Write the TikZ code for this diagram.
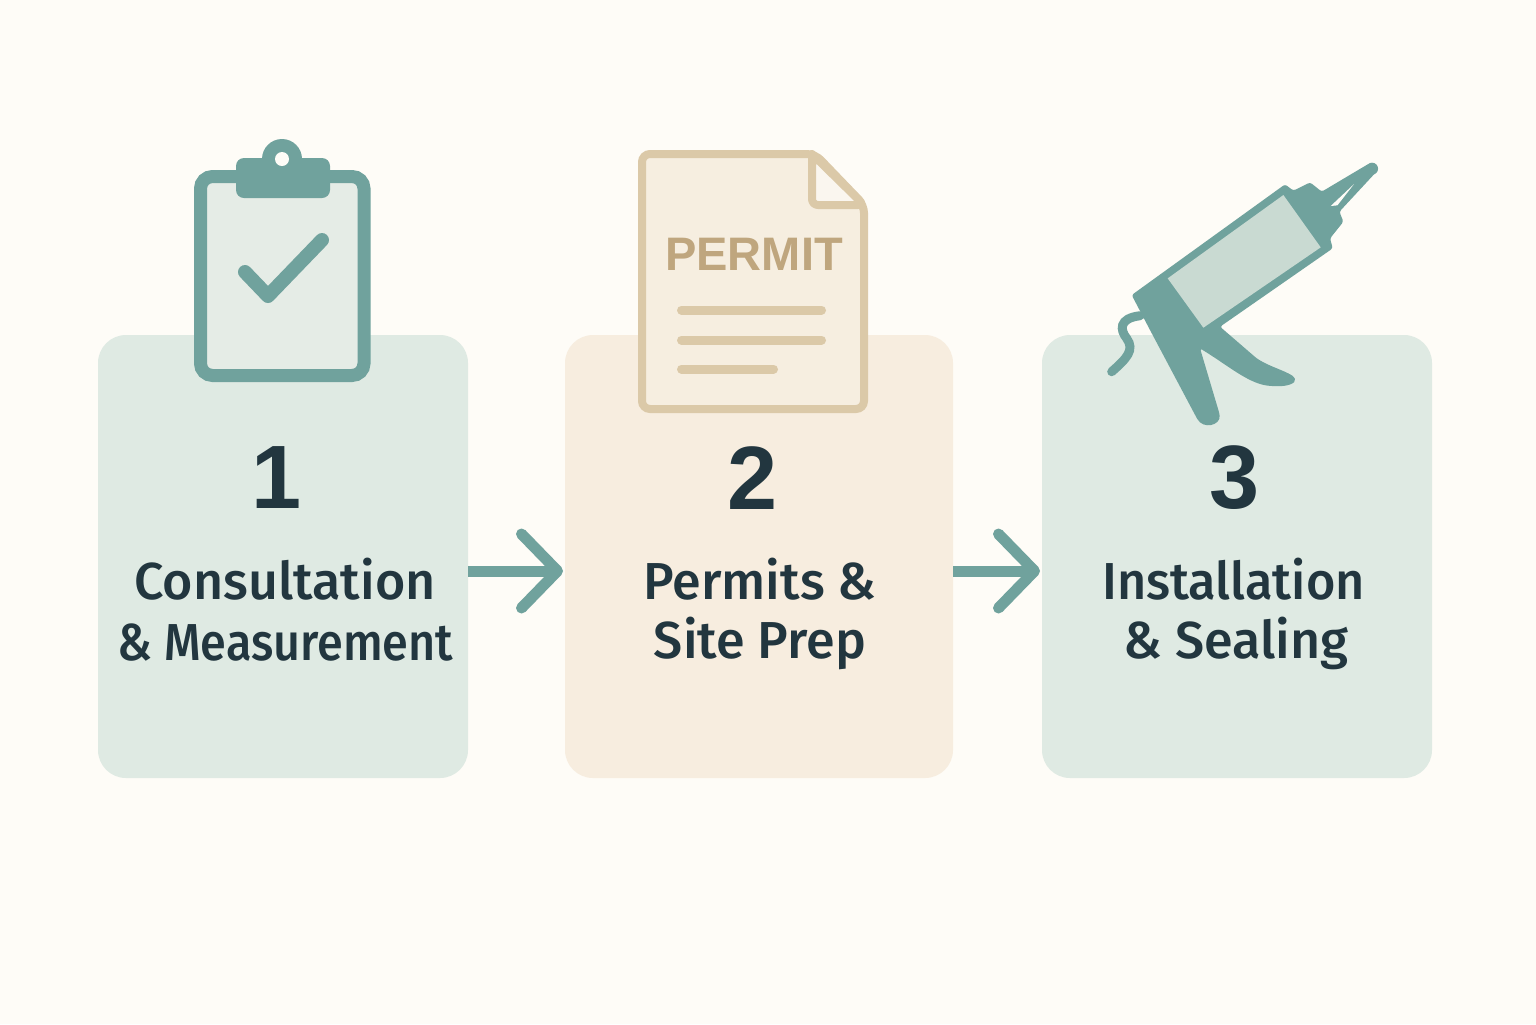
\documentclass[tikz,border=0pt]{standalone}
\usepackage{graphicx}
\usepackage{fontspec}
\setmainfont{Liberation Sans}
\newfontfamily\labelfont{Fira Sans Medium}
\usetikzlibrary{arrows.meta}
\definecolor{pagebg}{HTML}{FEFCF7}
\definecolor{mintbox}{HTML}{DFEAE3}
\definecolor{mintpaper}{HTML}{E5ECE6}
\definecolor{mintpane}{HTML}{C9DAD2}
\definecolor{sandbox}{HTML}{F7EDDF}
\definecolor{sandpaper}{HTML}{F6EEE0}
\definecolor{tealdark}{HTML}{70A29D}
\definecolor{inkdark}{HTML}{22363F}
\definecolor{sandline}{HTML}{DBC9A8}
\definecolor{sandtext}{HTML}{BFA67E}
\tikzset{
	stepcard/.style={rounded corners=14pt,inner sep=0pt,outer sep=0pt,minimum height=221.5pt},
	stepnum/.style={font=\fontsize{45}{45}\selectfont\bfseries,text=inkdark},
	steplabel/.style={font=\labelfont\fontsize{26}{26}\selectfont,text=inkdark},
	flowarrow/.style={tealdark,line width=5.5pt,shorten >=1pt,-{Straight Barb[length=18pt,width=37pt,round]}},
}
\begin{document}
\begin{tikzpicture}[x=0.5pt,y=-0.5pt]
	\useasboundingbox (0,0) rectangle (1536,1024);
	\fill[pagebg] (0,0) rectangle (1536,1024);
	% cards
	\node[stepcard,fill=mintbox,minimum width=185pt] (card1) at (283,556.5) {};
	\node[stepcard,fill=sandbox,minimum width=194pt] (card2) at (759,556.5) {};
	\node[stepcard,fill=mintbox,minimum width=195pt] (card3) at (1237,556.5) {};
	% arrows
	\draw[flowarrow] ([yshift=-7.25pt]card1.east) -- ([yshift=-7.25pt]card2.west);
	\draw[flowarrow] ([yshift=-7.25pt]card2.east) -- ([yshift=-7.25pt]card3.west);
	% texts
	\node[stepnum] (num1) at (277,478) {1};
	\node[stepnum] (num2) at (753,478) {2};
	\node[stepnum] (num3) at (1235,478) {3};
	\node[steplabel] (lab1a) at (285,579) {Consultation};
	\node[steplabel] (lab1b) at (285.5,643) {\scalebox{0.9}[1]{\& Measurement}};
	\node[steplabel] (lab2a) at (760,579) {Permits \&};
	\node[steplabel] (lab2b) at (760,643) {Site Prep};
	\node[steplabel] (lab3a) at (1233.5,579) {\scalebox{0.97}[1]{Installation}};
	\node[steplabel] (lab3b) at (1236,643) {\& Sealing};
	% clipboard
	\draw[tealdark,fill=mintpaper,line width=6.5pt,rounded corners=6pt] (200.5,176.5) rectangle (364,375.5);
	\fill[tealdark] (282,159) circle (20);
	\fill[tealdark,rounded corners=4pt] (236,158) rectangle (330,198);
	\fill[pagebg] (282,159) circle (7);
	\draw[tealdark,line width=7pt,line cap=round,line join=round] (245,272) -- (268,296) -- (322,240);
	% permit sheet
	\draw[sandline,fill=sandpaper,line width=4pt,rounded corners=4pt] (642,154) -- (815,154) -- (864,205) -- (864,409) -- (642,409) -- cycle;
	\draw[sandline,fill=sandpaper!50!white,line width=4pt,line join=round] (812,154) -- (812,198) [rounded corners=3pt] -- (812,205) -- (864,205) [sharp corners] -- cycle;
	\node[font=\fontsize{23.5}{23.5}\selectfont\bfseries,text=sandtext] (permit) at (754,254) {PERMIT};
	\draw[sandline,line width=4.5pt,line cap=round] (681.5,310) -- (821.5,310);
	\draw[sandline,line width=4.5pt,line cap=round] (681.5,340) -- (821.5,340);
	\draw[sandline,line width=4.5pt,line cap=round] (681.5,369) -- (773.5,369);
	% sealant gun
	\begin{scope}[shift={(1090,150)},x=0.1667pt,y=-0.1667pt]
		\draw[tealdark,line width=4.5pt,line cap=round] (150,497) .. controls (85,505) and (90,540) .. (110,565) .. controls (135,600) and (110,625) .. (65,665);
		\fill[tealdark,rounded corners=1.2pt] (125,435) -- (585,103) -- (610,122) -- (660,97) -- (695,125) -- (838,40) -- (862,62) -- (748,185) -- (760,215) -- (720,265) -- (728,295) -- (390,530) -- (500,625) .. controls (540,650) and (580,660) .. (612,680) .. controls (620,700) and (590,710) .. (550,708) .. controls (480,705) and (420,650) .. (330,595) -- (388,790) .. controls (392,825) and (340,840) .. (318,800) -- (180,540) -- cycle;
		\fill[tealdark] (846,56) circle (18);
		\fill[pagebg] (722,168) -- (792,102) -- (742,166) -- cycle;
		\fill[mintpane] (580,135) -- (692,292) -- (340,533) -- (233,385) -- cycle;
	\end{scope}
\end{tikzpicture}
\end{document}
